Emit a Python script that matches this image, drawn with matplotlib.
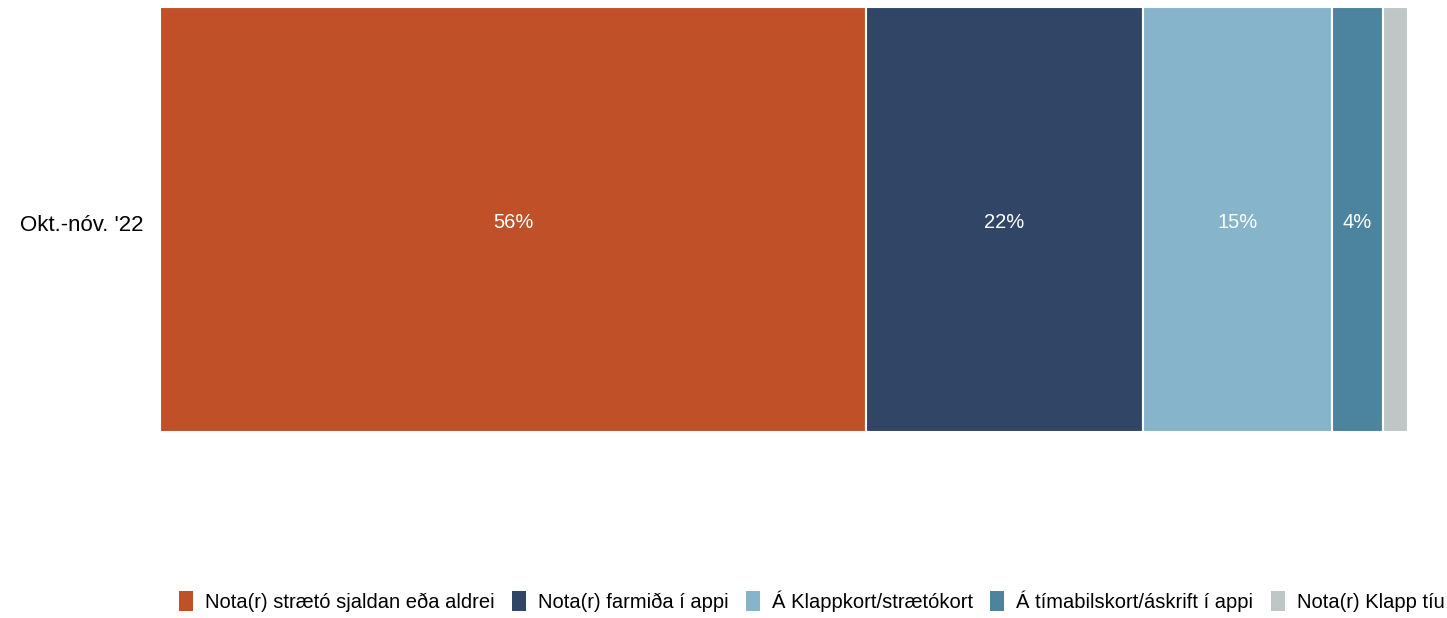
import matplotlib.pyplot as plt
from matplotlib.patches import Patch
from matplotlib.transforms import ScaledTranslation

plt.rcParams["font.family"] = ["Liberation Sans", "DejaVu Sans"]

period = "Okt.-nóv. '22"
categories = [
    "Nota(r) strætó sjaldan eða aldrei",
    "Nota(r) farmiða í appi",
    "Á Klappkort/strætókort",
    "Á tímabilskort/áskrift í appi",
    "Nota(r) Klapp tíu",
]
shares = [56, 22, 15, 4, 2]
colors = ["#C05028", "#314566", "#86B4CB", "#4C839F", "#BFC7C6"]

fig = plt.figure(figsize=(14.47, 6.18), dpi=100)
ax = fig.add_axes([160 / 1447, 1 - 432 / 618, 1248 / 1447, 425 / 618])

left = 0
for share, color in zip(shares, colors):
    ax.barh(0, share, left=left, height=1.0, color=color,
            edgecolor="white", linewidth=1.5)
    if share >= 4:
        ax.text(left + share / 2, -0.006, f"{share}%", ha="center",
                va="center", color="white", fontsize=14.5)
    left += share

ax.set_xlim(0, sum(shares))
ax.set_ylim(-0.5, 0.5)
ax.set_yticks([0])
ax.set_yticklabels([period], fontsize=16, va="center")
ax.set_xticks([])
ax.tick_params(axis="y", length=0, pad=12)
# nudge the period label down a few pixels so it sits level with the bar text
shift = ScaledTranslation(0, -4 / 72, fig.dpi_scale_trans)
for label in ax.get_yticklabels():
    label.set_transform(label.get_transform() + shift)
for spine in ax.spines.values():
    spine.set_visible(False)

handles = [Patch(facecolor=c, edgecolor="none") for c in colors]
fig.legend(handles, categories, loc="center left",
           bbox_to_anchor=(179 / 1447, 1 - 601 / 618), ncol=5, frameon=False,
           fontsize=14.5, handlelength=0.7, handleheight=1.15,
           handletextpad=0.6, columnspacing=0.85, borderaxespad=0,
           borderpad=0)

fig.savefig("out.png", dpi=100)
